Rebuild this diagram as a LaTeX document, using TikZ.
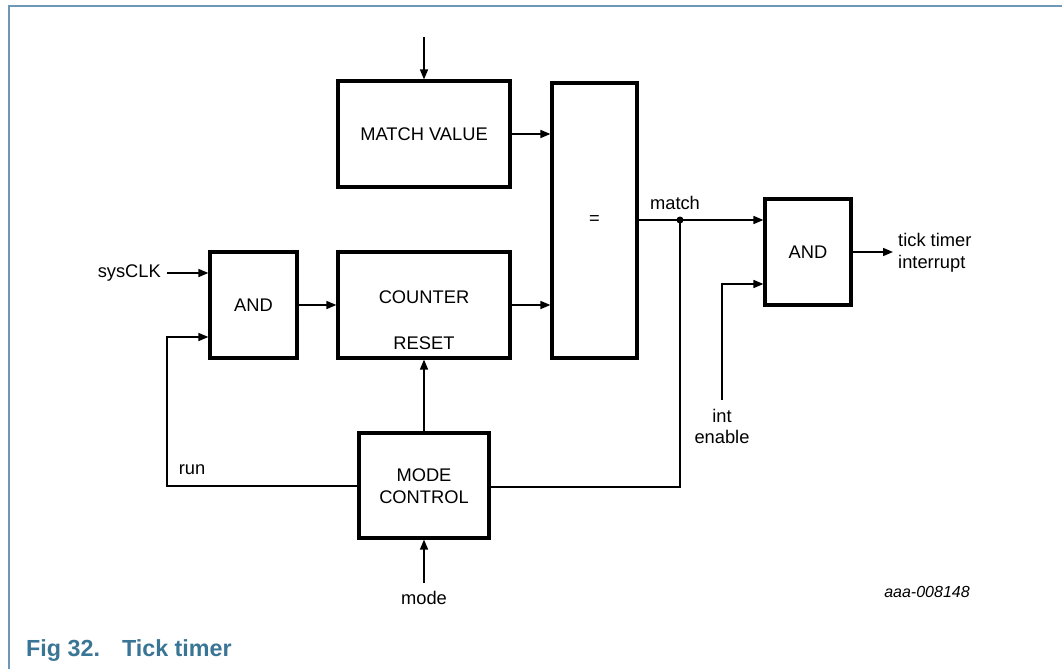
\documentclass[tikz,border=0pt]{standalone}
\usepackage{fontspec}
\setmainfont{Liberation Sans}
\usetikzlibrary{arrows.meta,calc}
\definecolor{capblue}{HTML}{3B7595}
\definecolor{frameblue}{HTML}{6E98B5}
\begin{document}
\begin{tikzpicture}[x=1pt,y=-1pt,
  blk/.style={draw,line width=3.2pt,inner sep=0pt,rectangle},
  conn/.style={line width=1.5pt},
  arr/.style={conn,-{Triangle[length=10pt,width=8pt]}},
  lbl/.style={font=\fontsize{18.3}{21.5}\selectfont,inner sep=0pt},
  every node/.style={text=black}
]
\useasboundingbox (0,0) rectangle (1062,669);
% frame
\draw[frameblue,line width=2.2pt] (9,669) -- (9,6) -- (1062,6);
% blocks
\node[blk,minimum width=172pt,minimum height=106pt] (mv) at (424,134) {};
\node[lbl] (mvt) at (424,134) {MATCH VALUE};
\node[blk,minimum width=85pt,minimum height=275pt] (eq) at (594.5,220.5) {};
\node[lbl] (eqt) at (594.5,220.5) {=};
\node[blk,minimum width=87pt,minimum height=106pt] (and1) at (253.5,305) {};
\node[lbl] (and1t) at (253.5,305) {AND};
\node[blk,minimum width=172pt,minimum height=106pt] (cnt) at (424,305) {};
\node[lbl] (cntt) at (424,297) {COUNTER};
\node[lbl] (rst) at (424,343) {RESET};
\node[blk,minimum width=130pt,minimum height=105pt] (mc) at (424,485.5) {};
\node[lbl,align=center] (mct) at (424,486) {MODE\\CONTROL};
\node[blk,minimum width=86pt,minimum height=106pt] (and2) at (808,252) {};
\node[lbl] (and2t) at (808,252) {AND};
% coordinates
\coordinate (mvin) at (424,37);
\coordinate (clkin) at (167,273);
\coordinate (modein) at (424,583);
\coordinate (runc) at (167,486);
\coordinate (runu) at (167,337);
\coordinate (jn) at (680,220);
\coordinate (jnd) at (680,487);
\coordinate (ie) at (722,400);
\coordinate (ieu) at (722,284);
\coordinate (out) at (893,252);
% connectors
\draw[arr] (mvin) -- (mv.north);
\draw[arr] (mv.east) -- (mv.east -| eq.west);
\draw[arr] (clkin) -- (clkin -| and1.west);
\draw[arr] (and1.east) -- (cnt.west);
\draw[arr] (cnt.east) -- (cnt.east -| eq.west);
\draw[arr] (mc.north) -- (cnt.south);
\draw[arr] (modein) -- (mc.south);
\draw[arr] (mc.west |- runc) -- (runc) -- (runu) -- (runu -| and1.west);
\draw[arr] (jn -| eq.east) -- (jn -| and2.west);
\fill (jn) circle (3.5pt);
\draw[conn] (jn) -- (jnd) -- (jnd -| mc.east);
\draw[arr] (ie) -- (ieu) -- (ieu -| and2.west);
\draw[arr] (and2.east) -- (out);
% labels
\node[lbl,anchor=east] (clkl) at (161,273) {sysCLK};
\node[lbl] (runl) at (192,470) {run};
\node[lbl] (model) at (424,598) {mode};
\node[lbl] (matchl) at (675,203) {match};
\node[lbl] (intl) at (722,416) {int};
\node[lbl] (enl) at (722,437) {enable};
\node[lbl,anchor=west,align=left] (outl) at (898,253) {tick timer\\interrupt};
\node[font=\fontsize{16}{18}\selectfont\itshape,inner sep=0pt] (idl) at (927,592) {aaa-008148};
\node[font=\fontsize{23.3}{26}\selectfont\bfseries,text=capblue,anchor=base west,inner sep=0pt] (cap) at (26,656) {Fig 32.\hspace{22pt}Tick timer};
\end{tikzpicture}
\end{document}
